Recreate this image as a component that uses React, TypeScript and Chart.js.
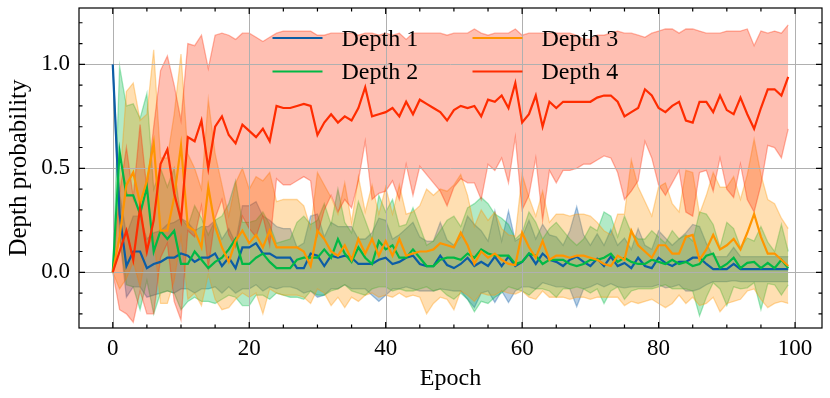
import React, { useEffect, useRef } from "react";
import { Chart, registerables } from "chart.js";

Chart.register(...registerables);

// ---------- data ----------
const epochs: number[] = Array.from({ length: 100 }, (_, i) => i);

const depth1Mean = [
  1.0, 0.28, 0.03, 0.1, 0.1, 0.02, 0.04, 0.05, 0.07, 0.07,
  0.09, 0.08, 0.05, 0.07, 0.07, 0.09, 0.03, 0.07, 0.02, 0.12,
  0.12, 0.14, 0.09, 0.09, 0.07, 0.07, 0.07, 0.02, 0.02, 0.09,
  0.08, 0.03, 0.08, 0.07, 0.08, 0.07, 0.04, 0.04, 0.04, 0.06,
  0.07, 0.04, 0.05, 0.07, 0.08, 0.04, 0.03, 0.03, 0.08, 0.035,
  0.02, 0.04, 0.07, 0.03, 0.05, 0.03, 0.075, 0.03, 0.075, 0.03,
  0.05, 0.09, 0.04, 0.09, 0.06, 0.05, 0.03, 0.06, 0.075, 0.05,
  0.03, 0.065, 0.03, 0.075, 0.03, 0.045, 0.02, 0.07, 0.03, 0.02,
  0.07, 0.045, 0.03, 0.05, 0.05, 0.07, 0.07, 0.04, 0.015, 0.015,
  0.015, 0.04, 0.015, 0.015, 0.015, 0.015, 0.015, 0.015, 0.015, 0.015,
];
const depth1Std = [
  0, 0.1, 0.15, 0.17, 0.17, 0.14, 0.15, 0.15, 0.16, 0.17,
  0.17, 0.16, 0.15, 0.15, 0.15, 0.16, 0.13, 0.14, 0.12, 0.2,
  0.2, 0.2, 0.18, 0.16, 0.15, 0.14, 0.14, 0.1, 0.12, 0.18,
  0.2, 0.14, 0.16, 0.15, 0.14, 0.15, 0.12, 0.12, 0.15, 0.2,
  0.18, 0.12, 0.13, 0.14, 0.16, 0.13, 0.12, 0.12, 0.16, 0.12,
  0.11, 0.13, 0.2, 0.2, 0.15, 0.12, 0.22, 0.12, 0.22, 0.12,
  0.12, 0.16, 0.12, 0.14, 0.12, 0.12, 0.1, 0.14, 0.24, 0.13,
  0.1, 0.12, 0.1, 0.13, 0.1, 0.12, 0.09, 0.14, 0.1, 0.09,
  0.13, 0.12, 0.1, 0.11, 0.14, 0.16, 0.15, 0.1, 0.06, 0.06,
  0.06, 0.08, 0.06, 0.06, 0.06, 0.06, 0.06, 0.06, 0.06, 0.06,
];

const depth2Mean = [
  0, 0.58, 0.37, 0.37, 0.28, 0.41, 0.1, 0.2, 0.16, 0.2,
  0.04, 0.04, 0.1, 0.06, 0.02, 0.05, 0.07, 0.11, 0.16, 0.04,
  0.04, 0.07, 0.09, 0.05, 0.02, 0.02, 0.02, 0.06, 0.07, 0.07,
  0.07, 0.11, 0.07, 0.16, 0.09, 0.05, 0.12, 0.07, 0.04, 0.15,
  0.11, 0.13, 0.07, 0.07, 0.11, 0.07, 0.03, 0.03, 0.06, 0.07,
  0.07, 0.06, 0.09, 0.07, 0.11, 0.09, 0.08, 0.08, 0.08, 0.04,
  0.05, 0.09, 0.08, 0.04, 0.06, 0.06, 0.06, 0.04, 0.03, 0.04,
  0.06, 0.06, 0.07, 0.09, 0.05, 0.07, 0.05, 0.04, 0.04, 0.06,
  0.05, 0.04, 0.06, 0.04, 0.05, 0.03, 0.04, 0.08, 0.09, 0.02,
  0.04, 0.07, 0.02, 0.045, 0.05, 0.02, 0.045, 0.02, 0.06, 0.02,
];
const depth2Std = [
  0, 0.41, 0.43, 0.44, 0.46, 0.45, 0.3, 0.3, 0.25, 0.3,
  0.22, 0.18, 0.22, 0.2, 0.16, 0.2, 0.2, 0.22, 0.28, 0.2,
  0.2, 0.18, 0.2, 0.18, 0.12, 0.13, 0.14, 0.18, 0.2, 0.16,
  0.18, 0.22, 0.16, 0.24, 0.15, 0.14, 0.22, 0.18, 0.12, 0.22,
  0.18, 0.22, 0.15, 0.16, 0.2, 0.15, 0.1, 0.12, 0.14, 0.18,
  0.2, 0.16, 0.22, 0.26, 0.25, 0.24, 0.2, 0.18, 0.15, 0.12,
  0.14, 0.2, 0.16, 0.12, 0.15, 0.18, 0.14, 0.12, 0.1, 0.12,
  0.16, 0.14, 0.22, 0.18, 0.12, 0.2, 0.14, 0.12, 0.12, 0.14,
  0.12, 0.1, 0.14, 0.12, 0.13, 0.12, 0.25, 0.2, 0.14, 0.1,
  0.2, 0.14, 0.1, 0.12, 0.1, 0.2, 0.1, 0.08, 0.17, 0.08,
];

const depth3Mean = [
  0, 0.17, 0.42, 0.48, 0.33, 0.44, 0.62, 0.2, 0.2, 0.36,
  0.61, 0.22, 0.2, 0.12, 0.41, 0.22, 0.12, 0.05, 0.15, 0.2,
  0.14, 0.18, 0.12, 0.2, 0.12, 0.12, 0.12, 0.12, 0.1, 0.03,
  0.2, 0.16, 0.1, 0.08, 0.13, 0.06, 0.16, 0.09, 0.16, 0.08,
  0.15, 0.08, 0.16, 0.08, 0.09, 0.1, 0.1, 0.11, 0.14, 0.13,
  0.12, 0.19, 0.13, 0.04, 0.1, 0.07, 0.09, 0.06, 0.04, 0.035,
  0.19, 0.12, 0.07, 0.15, 0.06, 0.08, 0.08, 0.07, 0.08, 0.08,
  0.07, 0.06, 0.04, 0.03, 0.08, 0.06, 0.2, 0.13, 0.1, 0.07,
  0.13, 0.13, 0.09, 0.09, 0.17, 0.18, 0.06, 0.11, 0.18, 0.11,
  0.13, 0.16, 0.11, 0.19, 0.28, 0.17, 0.09, 0.09, 0.06, 0.03,
];
const depth3Std = [
  0, 0.25, 0.45, 0.43, 0.4, 0.32, 0.45, 0.35, 0.35, 0.4,
  0.44, 0.35, 0.3, 0.28, 0.42, 0.35, 0.3, 0.22, 0.28, 0.3,
  0.26, 0.28, 0.32, 0.28, 0.22, 0.23, 0.23, 0.23, 0.22, 0.18,
  0.28, 0.26, 0.26, 0.2, 0.3, 0.18, 0.3, 0.2, 0.26, 0.2,
  0.26, 0.2, 0.26, 0.2, 0.2, 0.22, 0.3, 0.26, 0.26, 0.26,
  0.3, 0.28, 0.24, 0.18, 0.2, 0.18, 0.2, 0.15, 0.14, 0.14,
  0.28, 0.24, 0.2, 0.24, 0.18, 0.2, 0.2, 0.2, 0.2, 0.2,
  0.2, 0.18, 0.16, 0.15, 0.2, 0.22, 0.34, 0.28, 0.24, 0.2,
  0.28, 0.3, 0.24, 0.2, 0.32, 0.3, 0.22, 0.26, 0.3, 0.3,
  0.28, 0.3, 0.24, 0.28, 0.36, 0.3, 0.26, 0.24, 0.2, 0.18,
];

const depth4Mean = [
  0, 0.1, 0.2, 0.06, 0.31, 0.1, 0.25, 0.52, 0.59, 0.38,
  0.25, 0.65, 0.63, 0.73, 0.5, 0.7, 0.75, 0.66, 0.62, 0.71,
  0.68, 0.65, 0.69, 0.63, 0.8, 0.79, 0.79, 0.8, 0.81, 0.8,
  0.66, 0.72, 0.76, 0.72, 0.75, 0.73, 0.79, 0.89, 0.75, 0.76,
  0.77, 0.79, 0.75, 0.82, 0.76, 0.83, 0.81, 0.79, 0.77, 0.73,
  0.78, 0.8, 0.79, 0.8, 0.75, 0.83, 0.82, 0.85, 0.79, 0.91,
  0.72, 0.76, 0.85, 0.7, 0.82, 0.79, 0.82, 0.82, 0.82, 0.82,
  0.82, 0.84, 0.85, 0.85, 0.82, 0.75, 0.77, 0.79, 0.88, 0.85,
  0.79, 0.77, 0.8, 0.82, 0.73, 0.72, 0.82, 0.82, 0.77, 0.85,
  0.78, 0.76, 0.84, 0.76, 0.69, 0.79, 0.88, 0.88, 0.85, 0.94,
];
const depth4Std = [
  0, 0.28, 0.4, 0.3, 0.4, 0.3, 0.45, 0.45, 0.45, 0.52,
  0.48, 0.45, 0.46, 0.41, 0.48, 0.44, 0.4, 0.48, 0.5, 0.44,
  0.47, 0.48, 0.42, 0.5, 0.35, 0.37, 0.37, 0.36, 0.35, 0.36,
  0.48, 0.42, 0.39, 0.43, 0.4, 0.42, 0.35, 0.26, 0.4, 0.38,
  0.38, 0.35, 0.4, 0.3, 0.39, 0.32, 0.34, 0.36, 0.38, 0.41,
  0.37, 0.35, 0.36, 0.37, 0.4, 0.31, 0.33, 0.3, 0.36, 0.26,
  0.42, 0.39, 0.3, 0.45, 0.33, 0.36, 0.33, 0.33, 0.32, 0.3,
  0.3, 0.3, 0.29, 0.3, 0.34, 0.4, 0.38, 0.35, 0.25, 0.3,
  0.37, 0.4, 0.37, 0.33, 0.44, 0.45, 0.34, 0.33, 0.38, 0.3,
  0.38, 0.4, 0.32, 0.41, 0.4, 0.37, 0.27, 0.28, 0.3, 0.25,
];

const seriesNames = ["Depth 1", "Depth 2", "Depth 3", "Depth 4"];
const seriesColors = ["#0C5DA5", "#00B945", "#FF9500", "#FF2C00"];

const xTicks = [0, 20, 40, 60, 80, 100];
const xTickLabels = ["0", "20", "40", "60", "80", "100"];
const yTicks = [0, 0.5, 1.0];
const yTickLabels = ["0.0", "0.5", "1.0"];
const xLimits = [-4.95, 103.95];
const yLimits = [-0.268, 1.271];
const xMinorStep = 5;
const yMinorStep = 0.1;

const xTitle = "Epoch";
const yTitle = "Depth probability";

// ---------- style ----------
const FONT = "'Liberation Serif', 'Times New Roman', serif";

function rgba(hex: string, a: number) {
  const n = parseInt(hex.slice(1), 16);
  return `rgba(${(n >> 16) & 255},${(n >> 8) & 255},${n & 255},${a})`;
}

export default function App() {
  const ref = useRef<HTMLCanvasElement>(null);

  useEffect(() => {
    document.body.style.margin = "0";
    const canvas = ref.current;
    if (!canvas) return;

    const means = [depth1Mean, depth2Mean, depth3Mean, depth4Mean];
    const stds = [depth1Std, depth2Std, depth3Std, depth4Std];

    const datasets: any[] = [];
    means.forEach((m, k) => {
      const s = stds[k];
      const c = seriesColors[k];
      datasets.push({
        label: seriesNames[k] + " lower",
        kind: "band",
        data: epochs.map((e, i) => ({ x: e, y: m[i] - s[i] })),
        borderColor: rgba(c, 0.35),
        borderWidth: 1.3,
        pointRadius: 0,
        fill: false,
        tension: 0,
        order: 7 - k,
      });
      datasets.push({
        label: seriesNames[k] + " upper",
        kind: "band",
        data: epochs.map((e, i) => ({ x: e, y: m[i] + s[i] })),
        borderColor: rgba(c, 0.35),
        backgroundColor: rgba(c, 0.3),
        borderWidth: 1.3,
        pointRadius: 0,
        fill: "-1",
        tension: 0,
        order: 7 - k,
      });
    });
    means.forEach((m, k) => {
      datasets.push({
        label: seriesNames[k],
        kind: "mean",
        data: epochs.map((e, i) => ({ x: e, y: m[i] })),
        borderColor: seriesColors[k],
        backgroundColor: seriesColors[k],
        borderWidth: 2.2,
        pointRadius: 0,
        fill: false,
        tension: 0,
        order: 3 - k,
      });
    });

    let gridDrawn = false;

    const drawGrid = (chart: any) => {
      const { ctx, chartArea: a, scales } = chart;
      ctx.save();
      ctx.strokeStyle = "#b0b0b0";
      ctx.lineWidth = 1;
      xTicks.forEach((v) => {
        const px = Math.round(scales.x.getPixelForValue(v)) + 0.5;
        ctx.beginPath();
        ctx.moveTo(px, a.top);
        ctx.lineTo(px, a.bottom);
        ctx.stroke();
      });
      yTicks.forEach((v) => {
        const py = Math.round(scales.y.getPixelForValue(v)) + 0.5;
        ctx.beginPath();
        ctx.moveTo(a.left, py);
        ctx.lineTo(a.right, py);
        ctx.stroke();
      });
      ctx.restore();
    };

    const framePlugin = {
      id: "mplFrame",
      beforeDatasetsDraw() {
        gridDrawn = false;
      },
      beforeDatasetDraw(chart: any, args: any) {
        const ds = chart.data.datasets[args.index];
        if (!gridDrawn && ds && ds.kind === "mean") {
          drawGrid(chart);
          gridDrawn = true;
        }
      },
      afterDatasetsDraw(chart: any) {
        if (!gridDrawn) {
          drawGrid(chart);
          gridDrawn = true;
        }
        const { ctx, chartArea: a, scales } = chart;
        ctx.save();
        ctx.strokeStyle = "#000";
        ctx.lineWidth = 1.2;
        const majorLen = 6;
        const minorLen = 3.5;
        const xMinor: number[] = [];
        for (let v = Math.ceil(xLimits[0] / xMinorStep) * xMinorStep; v <= xLimits[1]; v += xMinorStep) {
          if (!xTicks.includes(v)) xMinor.push(v);
        }
        const yMinor: number[] = [];
        for (let j = Math.ceil(yLimits[0] / yMinorStep); j * yMinorStep <= yLimits[1]; j++) {
          const v = +(j * yMinorStep).toFixed(3);
          if (!yTicks.some((t) => Math.abs(t - v) < 1e-6)) yMinor.push(v);
        }
        const xT = (v: number, len: number) => {
          const px = scales.x.getPixelForValue(v);
          ctx.beginPath();
          ctx.moveTo(px, a.bottom);
          ctx.lineTo(px, a.bottom - len);
          ctx.moveTo(px, a.top);
          ctx.lineTo(px, a.top + len);
          ctx.stroke();
        };
        const yT = (v: number, len: number) => {
          const py = scales.y.getPixelForValue(v);
          ctx.beginPath();
          ctx.moveTo(a.left, py);
          ctx.lineTo(a.left + len, py);
          ctx.moveTo(a.right, py);
          ctx.lineTo(a.right - len, py);
          ctx.stroke();
        };
        xTicks.forEach((v) => xT(v, majorLen));
        xMinor.forEach((v) => xT(v, minorLen));
        yTicks.forEach((v) => yT(v, majorLen));
        yMinor.forEach((v) => yT(v, minorLen));
        ctx.strokeRect(a.left, a.top, a.right - a.left, a.bottom - a.top);
        ctx.restore();
      },
      afterDraw(chart: any) {
        const { ctx, chartArea: a } = chart;
        const cx = (a.left + a.right) / 2;
        const cols = [cx - 178, cx + 22];
        const rows = [a.top + 30, a.top + 63.5];
        const handle = 50;
        const gap = 19;
        ctx.save();
        ctx.font = `24px ${FONT}`;
        ctx.textBaseline = "middle";
        ctx.textAlign = "left";
        seriesNames.forEach((name, k) => {
          const col = Math.floor(k / 2);
          const row = k % 2;
          const x0 = cols[col];
          const y0 = rows[row];
          ctx.strokeStyle = seriesColors[k];
          ctx.lineWidth = 2.2;
          ctx.beginPath();
          ctx.moveTo(x0, y0);
          ctx.lineTo(x0 + handle, y0);
          ctx.stroke();
          ctx.fillStyle = "#000";
          ctx.fillText(name, x0 + handle + gap, y0 + 1.5);
        });
        ctx.restore();
      },
    };

    const chart = new Chart(canvas, {
      type: "line",
      data: { datasets },
      options: {
        animation: false,
        responsive: false,
        devicePixelRatio: 1,
        layout: { padding: { left: 0, right: 8, top: 8, bottom: 0 } },
        plugins: {
          legend: { display: false },
          tooltip: { enabled: false },
        },
        scales: {
          x: {
            type: "linear",
            min: xLimits[0],
            max: xLimits[1],
            grid: { display: false, drawTicks: false },
            border: { display: false },
            afterBuildTicks: (s: any) => {
              s.ticks = xTicks.map((v) => ({ value: v }));
            },
            afterFit: (s: any) => {
              s.height = 70;
              s.paddingLeft = 0;
              s.paddingRight = 0;
            },
            ticks: {
              autoSkip: false,
              maxRotation: 0,
              minRotation: 0,
              color: "#000",
              padding: 7,
              font: { family: FONT, size: 23 },
              callback: (v: any) => {
                const i = xTicks.indexOf(Number(v));
                return i >= 0 ? xTickLabels[i] : String(v);
              },
            },
            title: {
              display: true,
              text: xTitle,
              color: "#000",
              font: { family: FONT, size: 24 },
              padding: { top: 0, bottom: 5 },
            },
          },
          y: {
            type: "linear",
            min: yLimits[0],
            max: yLimits[1],
            grid: { display: false, drawTicks: false },
            border: { display: false },
            afterBuildTicks: (s: any) => {
              s.ticks = yTicks.map((v) => ({ value: v }));
            },
            afterFit: (s: any) => {
              s.width = 79;
              s.paddingTop = 0;
              s.paddingBottom = 0;
            },
            ticks: {
              color: "#000",
              padding: 9,
              font: { family: FONT, size: 23 },
              callback: (v: any) => {
                const i = yTicks.findIndex((t) => Math.abs(t - Number(v)) < 1e-9);
                return i >= 0 ? yTickLabels[i] : Number(v).toFixed(1);
              },
            },
            title: {
              display: true,
              text: yTitle,
              color: "#000",
              font: { family: FONT, size: 25 },
              padding: { top: 4, bottom: 0 },
            },
          },
        },
      },
      plugins: [framePlugin],
    } as any);

    return () => chart.destroy();
  }, []);

  return (
    <div style={{ width: 830, height: 398, position: "relative", background: "#fff" }}>
      <canvas ref={ref} width={830} height={398} style={{ width: 830, height: 398, display: "block" }} />
    </div>
  );
}
